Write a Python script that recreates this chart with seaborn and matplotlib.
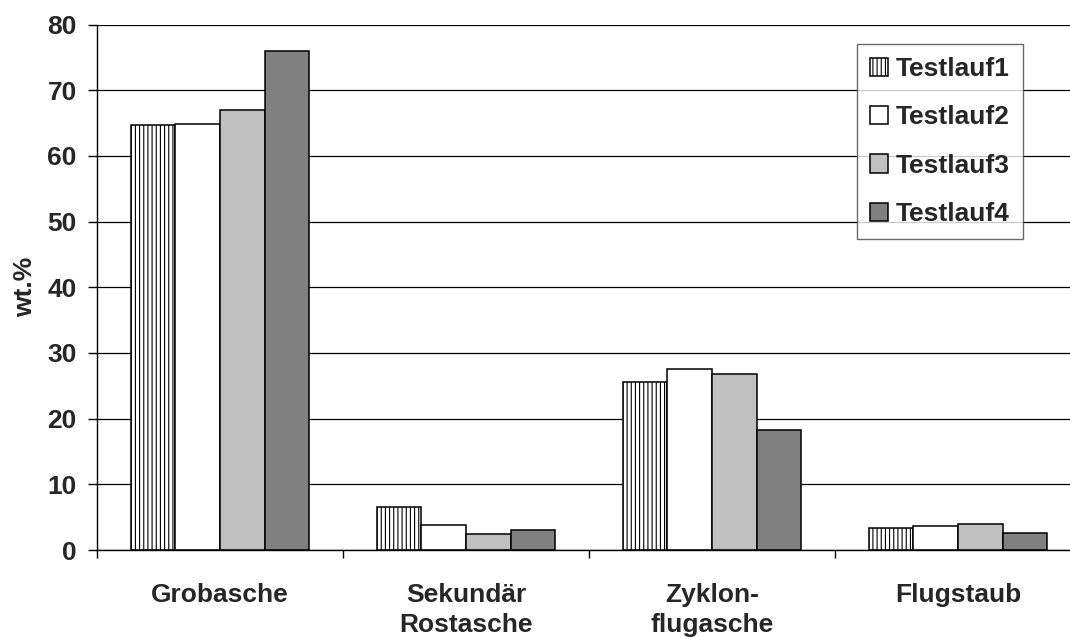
import matplotlib
matplotlib.use("Agg")
import matplotlib.pyplot as plt
import seaborn as sns
import pandas as pd

categories = ["Grobasche", "Sekundär\nRostasche", "Zyklon-\nflugasche", "Flugstaub"]
runs = ["Testlauf1", "Testlauf2", "Testlauf3", "Testlauf4"]
testlauf1 = [64.7, 6.6, 25.5, 3.4]
testlauf2 = [64.9, 3.8, 27.5, 3.6]
testlauf3 = [67.0, 2.4, 26.8, 4.0]
testlauf4 = [76.0, 3.0, 18.3, 2.6]
y_ticks = [0, 10, 20, 30, 40, 50, 60, 70, 80]
y_label = "wt.%"

colors = ["#FFFFFF", "#FFFFFF", "#C0C0C0", "#808080"]

rows = []
for run, vals in zip(runs, [testlauf1, testlauf2, testlauf3, testlauf4]):
    for c, v in zip(categories, vals):
        rows.append({"cat": c, "run": run, "val": v})
df = pd.DataFrame(rows)

sns.set_style("white")
plt.rcParams["font.family"] = ["Liberation Sans", "DejaVu Sans"]
plt.rcParams["font.weight"] = "bold"
plt.rcParams["hatch.linewidth"] = 0.8

FS = 19

fig = plt.figure(figsize=(10.7, 6.37), dpi=100)
ax = fig.add_axes([97 / 1070, 1 - 550 / 637, 984 / 1070, 525.5 / 637])

sns.barplot(data=df, x="cat", y="val", hue="run", order=categories, hue_order=runs,
            palette=colors, edgecolor="black", linewidth=1.1, width=0.7245,
            gap=0, saturation=1, ax=ax, legend=False)

for p in ax.containers[0]:
    p.set_hatch("||||")

ax.set_xlim(-0.5, 3.5)
ax.set_ylim(0, 80)
ax.set_yticks(y_ticks)
ax.set_yticklabels([str(t) for t in y_ticks], fontsize=FS, fontweight="bold")
ax.set_xticklabels(categories, fontsize=FS, fontweight="bold", va="top", linespacing=1.3)
ax.tick_params(axis="x", which="major", length=0, pad=24)
ax.set_xticks([-0.5, 0.5, 1.5, 2.5, 3.5], minor=True)
ax.tick_params(axis="x", which="minor", direction="out", length=6, width=1, color="black", bottom=True)
ax.tick_params(axis="y", direction="out", length=6.5, width=1, color="black", left=True, pad=8)

ax.set_xlabel("")
ax.set_ylabel(y_label, fontsize=FS, fontweight="bold")
ax.yaxis.set_label_coords(-0.061, 0.5)

ax.yaxis.grid(True, color="black", linewidth=0.9)
ax.xaxis.grid(False)
ax.set_axisbelow(True)
for s in ["top", "right"]:
    ax.spines[s].set_visible(False)
for s in ["left", "bottom"]:
    ax.spines[s].set_color("black")
    ax.spines[s].set_linewidth(1.0)

leg = ax.legend(handles=ax.containers, labels=runs, loc="upper left",
                bbox_to_anchor=(0.772, 0.963), fontsize=FS, frameon=True,
                fancybox=False, handlelength=0.68, handleheight=0.68,
                handletextpad=0.3, labelspacing=0.92, borderpad=0.5,
                borderaxespad=0)
leg.get_frame().set_edgecolor("#444444")
leg.get_frame().set_linewidth(1.0)
for t in leg.get_texts():
    t.set_fontweight("bold")

fig.savefig("out.png", dpi=100)
